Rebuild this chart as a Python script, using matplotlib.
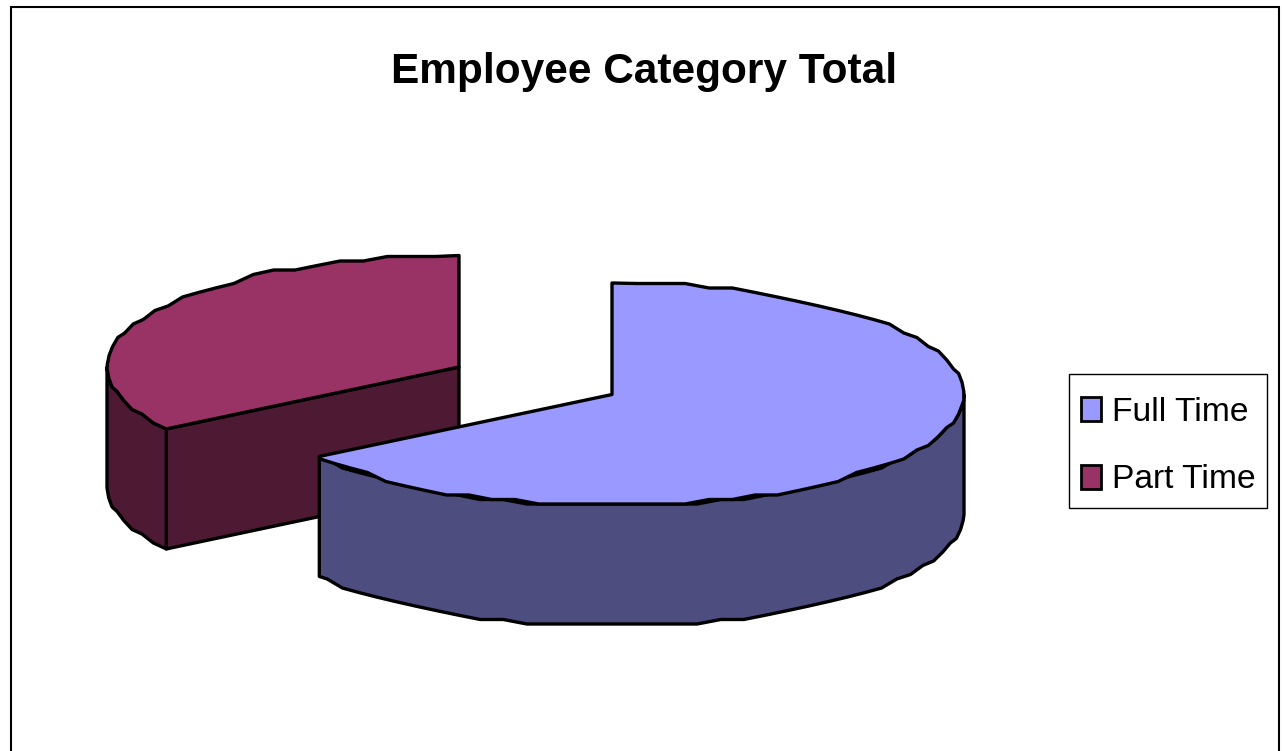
import numpy as np
import matplotlib
matplotlib.use("Agg")
import matplotlib.pyplot as plt
from matplotlib.patches import Patch, Polygon, Rectangle

plt.rcParams["font.family"] = ["Liberation Sans", "DejaVu Sans"]

categories = ["Full Time", "Part Time"]
values = [21, 11]
top_colors = ["#9999FF", "#993366"]
side_colors = ["#4D4D80", "#4D1933"]

# where each exploded slice sits, in pixels of the picture
centers = [(612, 394.5), (459, 367)]
RX, RY = 352, 111.5
DEPTH = 120
SNAP = 4.5  # the rim of the original is stepped, not smooth


def rim(cx, cy, a0, a1):
    # angles run clockwise from 12 o'clock, like the spreadsheet pie
    ang = np.radians(np.arange(a0, a1, 4.0))
    ang = np.append(ang, np.radians(a1))
    x = cx + RX * np.sin(ang)
    y = cy - RY * np.cos(ang)
    y[1:-1] = np.round(y[1:-1] / SNAP) * SNAP
    return np.column_stack([x, y])


fig = plt.figure(figsize=(12.82, 7.51), dpi=100)
ax = fig.add_axes([0, 0, 1, 1])
ax.set_xlim(0, 1282)
ax.set_ylim(751, 0)
ax.axis("off")

# chart frame, runs off the bottom of the picture
ax.add_patch(Rectangle((10.5, 6.5), 1268, 760, fc="white", ec="black", lw=1.5))

angles = np.cumsum([0] + values) / sum(values) * 360
down = np.array([0, DEPTH])
edge = dict(ec="black", lw=2.4, joinstyle="round")

# part time first, the full time slice overlaps it
for i in [1, 0]:
    cx, cy = centers[i]
    a0, a1 = angles[i], angles[i + 1]
    pts = rim(cx, cy, a0, a1)
    c = np.array([cx, cy])

    if i == 0:
        # outer wall, right extreme round to the end of the slice
        wall = rim(cx, cy, 90, a1)
        ax.add_patch(Polygon(np.vstack([wall, (wall + down)[::-1]]), fc=side_colors[i], **edge))
    else:
        # cut face towards the viewer, then outer wall on the left
        start = pts[0]
        ax.add_patch(Polygon([start, c, c + down, start + down], fc=side_colors[i], **edge))
        wall = rim(cx, cy, a0, 270)
        ax.add_patch(Polygon(np.vstack([wall, (wall + down)[::-1]]), fc=side_colors[i], **edge))

    ax.add_patch(Polygon(np.vstack([pts, c]), fc=top_colors[i], **edge))

ax.text(644.5, 72, "Employee Category Total", ha="center", va="center",
        fontsize=30.5, fontweight="bold", color="black")

# legend box drawn on its own, its padding is wider than it is tall in the original
ax.add_patch(Rectangle((1069, 374), 198, 134, fc="white", ec="black", lw=1))
handles = [Patch(fc=top_colors[i], ec="black", lw=2) for i in range(2)]
ax.legend(handles, categories, loc="center left", bbox_to_anchor=(1081 / 1282, 1 - 446 / 751),
          fontsize=24.2, frameon=False, handlelength=0.6, handleheight=0.72, handletextpad=0.33,
          labelspacing=1.1, borderpad=0, borderaxespad=0)

fig.savefig("out.png", dpi=100)
